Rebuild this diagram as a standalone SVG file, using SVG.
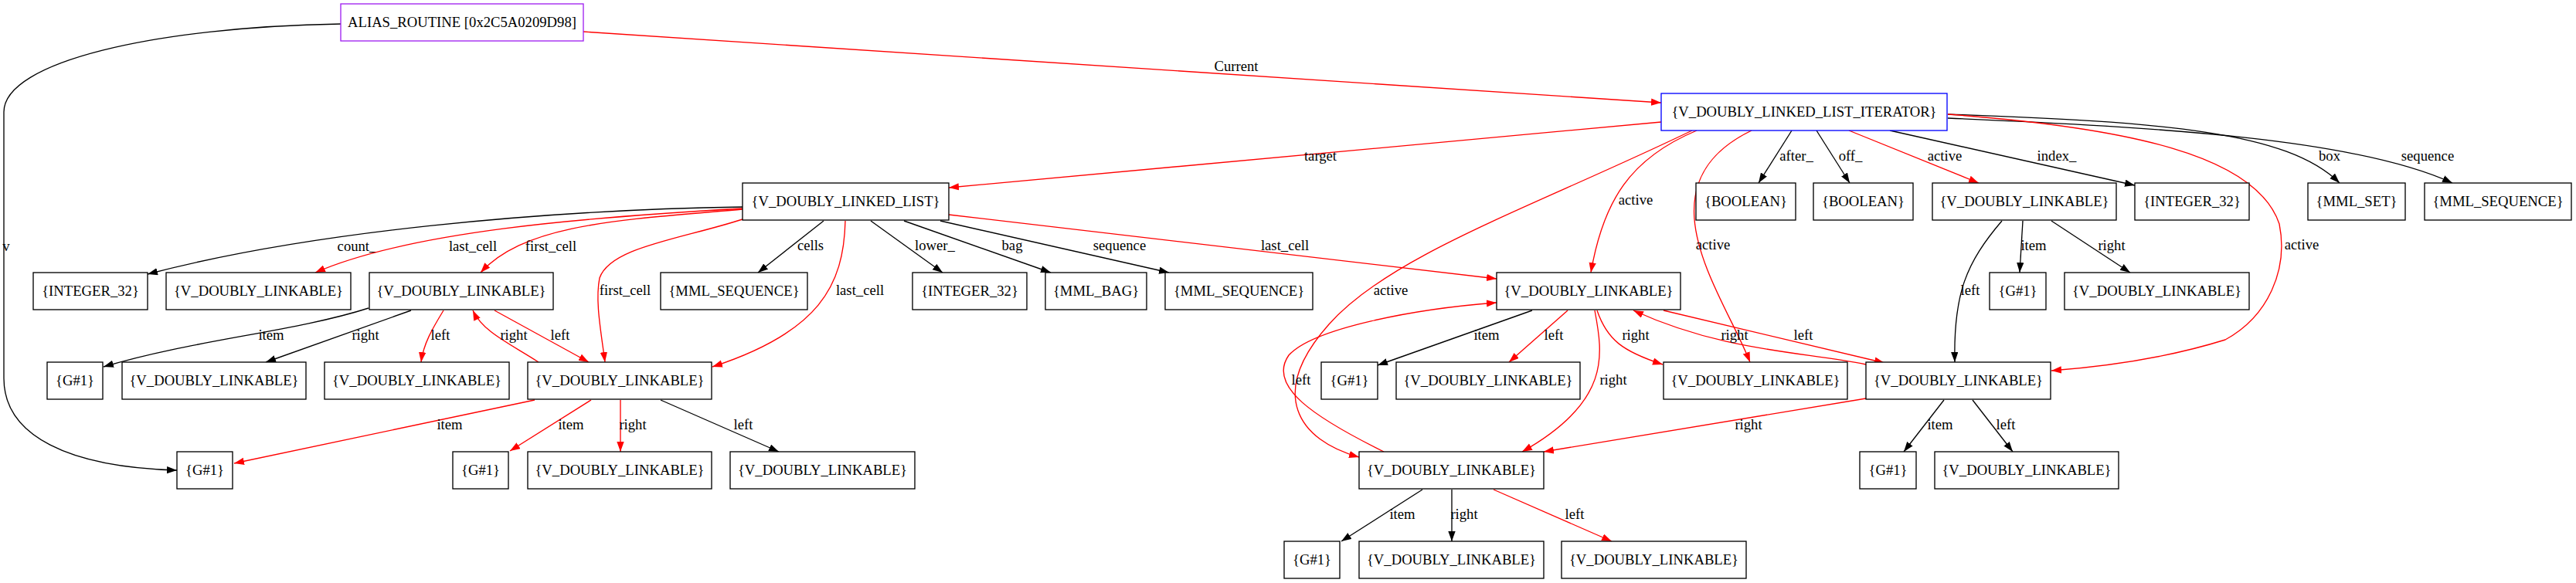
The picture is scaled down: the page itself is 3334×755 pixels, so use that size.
<svg xmlns="http://www.w3.org/2000/svg" width="3334" height="755" viewBox="0 0 3334 755">
<style>
text{font-family:"Liberation Serif","Times New Roman",serif;font-size:18.67px;text-anchor:middle;fill:#000}
.node rect{fill:#fff;stroke:#000;stroke-width:1.33}
.e{fill:none;stroke:#000;stroke-width:1.33;marker-end:url(#ab)}
.r{stroke:#ff0000;marker-end:url(#ar)}
</style>
<defs>
<marker id="ab" markerUnits="userSpaceOnUse" markerWidth="14" markerHeight="10" refX="13" refY="4.67" orient="auto"><path d="M0,0 L13,4.67 L0,9.33 z" fill="#000"/></marker>
<marker id="ar" markerUnits="userSpaceOnUse" markerWidth="14" markerHeight="10" refX="13" refY="4.67" orient="auto"><path d="M0,0 L13,4.67 L0,9.33 z" fill="#ff0000"/></marker>
</defs>
<rect x="0" y="0" width="3334" height="755" fill="#fff"/>
<g id="edges">
<path class="e" d="M441,31 C200,35 5,80 5,145 L5,490 C5,565 90,605 229,609"/>
<text x="8" y="325">v</text>
<path class="e r" d="M755,41 L2150,133"/>
<text x="1600" y="92">Current</text>
<path class="e r" d="M2150,158 L1228,243"/>
<text x="1709" y="208">target</text>
<path class="e" d="M2319,169 L2276,237"/>
<text x="2325" y="208">after_</text>
<path class="e" d="M2351,169 L2394,237"/>
<text x="2395" y="208">off_</text>
<path class="e r" d="M2393,169 L2561,237"/>
<text x="2517" y="208">active</text>
<path class="e" d="M2446,169 L2763,240"/>
<text x="2662" y="208">index_</text>
<path class="e" d="M2521,148 C2800,158 2960,170 3028,237"/>
<text x="3015" y="208">box</text>
<path class="e" d="M2521,153 C2800,165 3050,180 3174,237"/>
<text x="3142" y="208">sequence</text>
<path class="e r" d="M2521,148 C2750,165 2920,200 2950,290 C2962,350 2935,410 2880,440 C2800,465 2720,475 2655,480"/>
<text x="2979" y="323">active</text>
<path class="e r" d="M2196,169 C2110,205 2075,260 2059,353"/>
<text x="2117" y="265">active</text>
<path class="e r" d="M2267,169 C2120,240 2230,380 2265,469"/>
<text x="2217" y="323">active</text>
<path class="e r" d="M2190,169 C1980,270 1800,330 1720,420 C1640,510 1680,570 1759,592"/>
<text x="1800" y="382">active</text>
<path class="e" d="M961,268 C700,272 400,300 191,355"/>
<text x="462" y="325">count_</text>
<path class="e r" d="M961,270 C750,282 530,300 408,353"/>
<text x="612" y="325">last_cell</text>
<path class="e r" d="M961,271 C800,285 680,290 622,353"/>
<text x="713" y="325">first_cell</text>
<path class="e r" d="M961,284 C880,310 790,320 776,360 C770,390 778,430 783,469"/>
<text x="809" y="382">first_cell</text>
<path class="e" d="M1066,286 L981,353"/>
<text x="1049" y="324">cells</text>
<path class="e r" d="M1094,286 C1092,370 1060,430 922,475"/>
<text x="1113" y="382">last_cell</text>
<path class="e" d="M1127,286 L1220,353"/>
<text x="1210" y="324">lower_</text>
<path class="e" d="M1170,286 L1360,353"/>
<text x="1310" y="324">bag</text>
<path class="e" d="M1217,286 L1513,353"/>
<text x="1449" y="324">sequence</text>
<path class="e r" d="M1228,278 L1937,361"/>
<text x="1663" y="324">last_cell</text>
<path class="e" d="M477,399 C380,430 250,440 134,475"/>
<text x="351" y="440">item</text>
<path class="e" d="M532,402 L344,469"/>
<text x="473" y="440">right</text>
<path class="e r" d="M574,402 C560,425 548,445 545,469"/>
<text x="570" y="440">left</text>
<path class="e r" d="M640,402 L762,469"/>
<text x="725" y="440">left</text>
<path class="e r" d="M697,469 C660,445 625,430 612,402"/>
<text x="665" y="440">right</text>
<path class="e r" d="M692,518 L303,600"/>
<text x="582" y="556">item</text>
<path class="e r" d="M765,518 L660,584"/>
<text x="739" y="556">item</text>
<path class="e r" d="M803,518 L803,585"/>
<text x="819" y="556">right</text>
<path class="e" d="M855,518 L1008,585"/>
<text x="962" y="556">left</text>
<path class="e" d="M1983,402 L1783,473"/>
<text x="1924" y="440">item</text>
<path class="e r" d="M2029,402 L1953,469"/>
<text x="2011" y="440">left</text>
<path class="e r" d="M2067,402 C2080,440 2100,455 2152,472"/>
<text x="2117" y="440">right</text>
<path class="e r" d="M2064,402 C2075,460 2085,520 1970,585"/>
<text x="2088" y="498">right</text>
<path class="e r" d="M2153,402 L2439,470"/>
<text x="2334" y="440">left</text>
<path class="e r" d="M2415,472 C2330,455 2230,455 2114,402"/>
<text x="2245" y="440">right</text>
<path class="e r" d="M2415,516 L1998,585"/>
<text x="2263" y="556">right</text>
<path class="e r" d="M1791,585 C1700,540 1640,500 1668,460 C1700,425 1830,400 1937,392"/>
<text x="1684" y="498">left</text>
<path class="e" d="M2516,518 L2464,585"/>
<text x="2511" y="556">item</text>
<path class="e" d="M2553,518 L2605,585"/>
<text x="2596" y="556">left</text>
<path class="e" d="M2618,286 L2614,353"/>
<text x="2632" y="324">item</text>
<path class="e" d="M2655,286 L2757,353"/>
<text x="2733" y="324">right</text>
<path class="e" d="M2591,286 C2545,340 2528,380 2530,469"/>
<text x="2550" y="382">left</text>
<path class="e" d="M1841,634 L1736,701"/>
<text x="1815" y="672">item</text>
<path class="e" d="M1879,634 L1879,701"/>
<text x="1895" y="672">right</text>
<path class="e r" d="M1933,634 L2086,701"/>
<text x="2038" y="672">left</text>
</g>
<g id="n_alias" class="node"><rect x="441" y="5" width="314" height="48" style="stroke:#a020f0"/><text x="598" y="35">ALIAS_ROUTINE [0x2C5A0209D98]</text></g>
<g id="n_iter" class="node"><rect x="2150" y="121" width="370" height="48" style="stroke:#0000ff"/><text x="2335" y="151">{V_DOUBLY_LINKED_LIST_ITERATOR}</text></g>
<g id="n_vdll" class="node"><rect x="961" y="237" width="267" height="48"/><text x="1094.5" y="267">{V_DOUBLY_LINKED_LIST}</text></g>
<g id="n_bool1" class="node"><rect x="2195" y="237" width="129" height="48"/><text x="2259.5" y="267">{BOOLEAN}</text></g>
<g id="n_bool2" class="node"><rect x="2347" y="237" width="129" height="48"/><text x="2411.5" y="267">{BOOLEAN}</text></g>
<g id="n_vdl_a" class="node"><rect x="2501" y="237" width="238" height="48"/><text x="2620" y="267">{V_DOUBLY_LINKABLE}</text></g>
<g id="n_int_idx" class="node"><rect x="2763" y="237" width="148" height="48"/><text x="2837" y="267">{INTEGER_32}</text></g>
<g id="n_mmlset" class="node"><rect x="2987" y="237" width="126" height="48"/><text x="3050" y="267">{MML_SET}</text></g>
<g id="n_mmlseq_it" class="node"><rect x="3138" y="237" width="190" height="48"/><text x="3233" y="267">{MML_SEQUENCE}</text></g>
<g id="n_int_cnt" class="node"><rect x="43" y="353" width="148" height="48"/><text x="117" y="383">{INTEGER_32}</text></g>
<g id="n_vdl_lc" class="node"><rect x="215" y="353" width="239" height="48"/><text x="334.5" y="383">{V_DOUBLY_LINKABLE}</text></g>
<g id="n_vdl_fc" class="node"><rect x="478" y="353" width="238" height="48"/><text x="597" y="383">{V_DOUBLY_LINKABLE}</text></g>
<g id="n_mmlseq_cells" class="node"><rect x="855" y="353" width="190" height="48"/><text x="950" y="383">{MML_SEQUENCE}</text></g>
<g id="n_int_lower" class="node"><rect x="1181" y="353" width="148" height="48"/><text x="1255" y="383">{INTEGER_32}</text></g>
<g id="n_mmlbag" class="node"><rect x="1353" y="353" width="131" height="48"/><text x="1418.5" y="383">{MML_BAG}</text></g>
<g id="n_mmlseq_seq" class="node"><rect x="1508" y="353" width="191" height="48"/><text x="1603.5" y="383">{MML_SEQUENCE}</text></g>
<g id="n_vdl_mid" class="node"><rect x="1937" y="353" width="238" height="48"/><text x="2056" y="383">{V_DOUBLY_LINKABLE}</text></g>
<g id="n_g_a" class="node"><rect x="2575" y="353" width="73" height="48"/><text x="2611.5" y="383">{G#1}</text></g>
<g id="n_vdl_ar" class="node"><rect x="2672" y="353" width="239" height="48"/><text x="2791.5" y="383">{V_DOUBLY_LINKABLE}</text></g>
<g id="n_g_fc" class="node"><rect x="61" y="469" width="72" height="48"/><text x="97" y="499">{G#1}</text></g>
<g id="n_vdl_fcr" class="node"><rect x="158" y="469" width="238" height="48"/><text x="277" y="499">{V_DOUBLY_LINKABLE}</text></g>
<g id="n_vdl_fcl" class="node"><rect x="420" y="469" width="239" height="48"/><text x="539.5" y="499">{V_DOUBLY_LINKABLE}</text></g>
<g id="n_vdl_hubL" class="node"><rect x="683" y="469" width="238" height="48"/><text x="802" y="499">{V_DOUBLY_LINKABLE}</text></g>
<g id="n_g_mid" class="node"><rect x="1710" y="469" width="73" height="48"/><text x="1746.5" y="499">{G#1}</text></g>
<g id="n_vdl_midl" class="node"><rect x="1807" y="469" width="238" height="48"/><text x="1926" y="499">{V_DOUBLY_LINKABLE}</text></g>
<g id="n_vdl_midr" class="node"><rect x="2153" y="469" width="238" height="48"/><text x="2272" y="499">{V_DOUBLY_LINKABLE}</text></g>
<g id="n_vdl_hubR" class="node"><rect x="2415" y="469" width="239" height="48"/><text x="2534.5" y="499">{V_DOUBLY_LINKABLE}</text></g>
<g id="n_g_v" class="node"><rect x="229" y="585" width="72" height="48"/><text x="265" y="615">{G#1}</text></g>
<g id="n_g_hl" class="node"><rect x="586" y="585" width="72" height="48"/><text x="622" y="615">{G#1}</text></g>
<g id="n_vdl_hlr" class="node"><rect x="683" y="585" width="238" height="48"/><text x="802" y="615">{V_DOUBLY_LINKABLE}</text></g>
<g id="n_vdl_hll" class="node"><rect x="945" y="585" width="239" height="48"/><text x="1064.5" y="615">{V_DOUBLY_LINKABLE}</text></g>
<g id="n_vdl_hubB" class="node"><rect x="1759" y="585" width="239" height="48"/><text x="1878.5" y="615">{V_DOUBLY_LINKABLE}</text></g>
<g id="n_g_hr" class="node"><rect x="2407" y="585" width="73" height="48"/><text x="2443.5" y="615">{G#1}</text></g>
<g id="n_vdl_hrl" class="node"><rect x="2504" y="585" width="238" height="48"/><text x="2623" y="615">{V_DOUBLY_LINKABLE}</text></g>
<g id="n_g_hb" class="node"><rect x="1662" y="701" width="72" height="48"/><text x="1698" y="731">{G#1}</text></g>
<g id="n_vdl_hbr" class="node"><rect x="1759" y="701" width="239" height="48"/><text x="1878.5" y="731">{V_DOUBLY_LINKABLE}</text></g>
<g id="n_vdl_hbl" class="node"><rect x="2021" y="701" width="239" height="48"/><text x="2140.5" y="731">{V_DOUBLY_LINKABLE}</text></g>
</svg>
